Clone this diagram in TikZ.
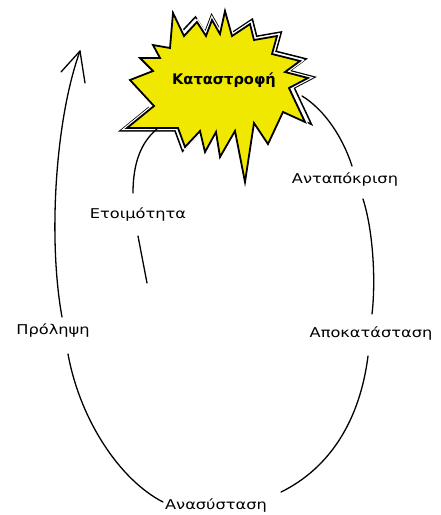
\documentclass[tikz,border=0pt]{standalone}
\usepackage{fontspec}
\setmainfont{DejaVu Sans}[FakeStretch=1.2]
\newfontfamily\titlefont{DejaVu Sans}
\usetikzlibrary{calc}
\begin{document}
\begin{tikzpicture}[x=1pt,y=-1pt,
  lbl/.style={font=\fontsize{13.5}{16}\selectfont, inner sep=2pt},
  conn/.style={line width=1.3pt, line cap=round},
  burstfill/.style={fill={rgb,255:red,240;green,232;blue,0}, draw=black, line width=1.8pt, line join=miter, miter limit=25},
  burstgap/.style={draw=white, line width=4.2pt, line join=miter, miter limit=8},
  burstedge/.style={draw=black, line width=1.5pt, line join=miter, miter limit=6}]
\useasboundingbox (0,0) rectangle (441,515);
\fill[white] (0,0) rectangle (441,515);

% outer (shadow) edges of the starburst
\begin{scope}[shift={(218,90)}, scale=1.075, shift={(-218,-90)}]
  \path[burstedge] (184,36) -- (197,22) -- (206,36) -- (212,20) -- (220,34)
    -- (232,36) -- (250,24) -- (254,40) -- (277,36) -- (272,54) -- (300,61) -- (285,72)
    -- (308,78) -- (289,88) -- (305,122) -- (283,112);
  \path[burstedge] (200,131) -- (185,147) -- (178,128) -- (127,128) -- (154,106);
\end{scope}

% starburst
\def\burstpath{(173,13) -- (184,36) -- (197,22) -- (206,36) -- (212,20) -- (220,34)
  -- (225,11) -- (232,36) -- (250,24) -- (254,40) -- (277,36) -- (272,54)
  -- (300,61) -- (285,72) -- (308,78) -- (289,88) -- (305,122) -- (283,112)
  -- (268,144) -- (254,123) -- (245,182) -- (235,131) -- (220,157) -- (216,132)
  -- (205,152) -- (200,131) -- (185,147) -- (178,128) -- (127,128) -- (154,106)
  -- (130,80) -- (153,71) -- (140,58) -- (160,58) -- (153,45) -- (170,48) -- cycle}
\path[burstgap] \burstpath;
\path[burstfill] \burstpath;

\coordinate (burstSW) at (157,129);
\coordinate (burstE) at (302,96);
\coordinate (arrowtip) at (80,51);
\coordinate (etoiEnd) at (147,283);

\node[font=\titlefont\bfseries\fontsize{14.6}{17}\selectfont, inner sep=0pt] (kat) at (224,80) {Καταστροφή};
\node[lbl] (etoi) at (138,215) {Ετοιμότητα};
\node[lbl] (antap) at (345,180) {Ανταπόκριση};
\node[lbl] (apok) at (371,333) {Αποκατάσταση};
\node[lbl] (prol) at (53,330) {Πρόληψη};
\node[lbl] (anas) at (216,505) {Ανασύσταση};

% connectors
\draw[conn] ([yshift=3pt]anas.west) .. controls (120,480) and (80,420) .. ([xshift=15pt,yshift=-15pt]prol.south);
\draw[conn] ([xshift=9pt,yshift=4pt]prol.north) .. controls (48,240) and (55,120) .. (arrowtip);
\draw[conn, line join=round] (61,72) -- (arrowtip) -- (85,83);
\draw[conn] ([yshift=-12pt]etoi.south) -- (etoiEnd);
\draw[conn] ([xshift=-5pt,yshift=13pt]etoi.north) .. controls (133,165) and (140,143) .. (burstSW);
\draw[conn] (burstE) .. controls (325,110) and (343,138) .. ([xshift=7pt,yshift=5pt]antap.north);
\draw[conn] ([xshift=18pt,yshift=-10pt]antap.south) .. controls (373,230) and (376,280) .. ([xshift=1pt,yshift=10pt]apok.north);
\draw[conn] ([xshift=-3pt,yshift=-14pt]apok.south) .. controls (360,420) and (330,468) .. ([xshift=12pt,yshift=13pt]anas.east);
\end{tikzpicture}
\end{document}
